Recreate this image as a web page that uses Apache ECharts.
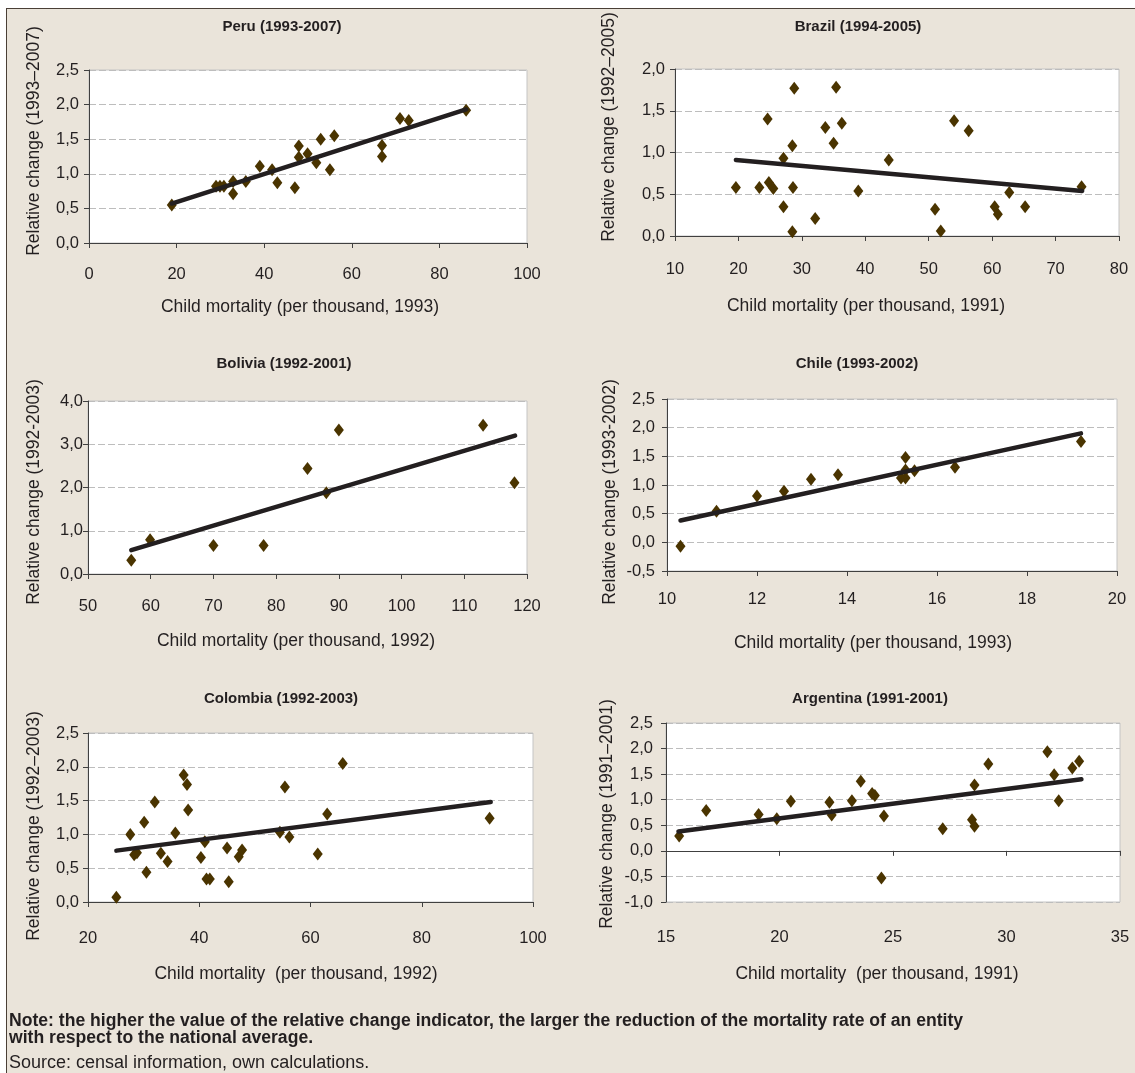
<!DOCTYPE html>
<html>
<head>
<meta charset="utf-8">
<script src="https://cdn.jsdelivr.net/npm/echarts@6/dist/echarts.min.js"></script>
<style>
  html, body { margin: 0; padding: 0; width: 1135px; height: 1073px; overflow: hidden; background: #ffffff; }
  #frame { position: absolute; left: 6px; top: 8px; width: 1140px; height: 1080px; background: #EAE4DA; border-left: 1.5px solid #4a3f36; border-top: 1.5px solid #4a3f36; }
  #chart { position: absolute; left: 0; top: 0; width: 1135px; height: 1073px; }
</style>
</head>
<body>
<div id="frame"></div>
<div id="chart"></div>
<script>
// ---------------- DATA ----------------
const peruPoints = [[18.9,0.55],[29.0,0.82],[29.9,0.82],[30.8,0.82],[32.9,0.89],[32.9,0.71],[35.8,0.89],[39.0,1.11],[41.8,1.06],[43.0,0.87],[47.0,0.80],[47.9,1.40],[47.9,1.24],[49.9,1.29],[51.9,1.16],[52.9,1.50],[55.0,1.06],[56.0,1.55],[66.9,1.41],[66.9,1.25],[71.0,1.80],[73.0,1.77],[86.1,1.92]];
const peruTrend = [[18.9,0.57],[86.1,1.93]];

const brazilPoints = [[19.6,0.58],[23.3,0.58],[24.6,1.40],[24.8,0.64],[25.5,0.57],[27.1,0.35],[27.1,0.93],[28.5,1.08],[28.8,1.77],[28.6,0.58],[28.5,0.05],[32.1,0.21],[33.7,1.30],[35.0,1.11],[35.4,1.78],[36.3,1.35],[38.9,0.54],[43.7,0.91],[51.0,0.32],[51.9,0.06],[54.0,1.38],[56.3,1.26],[60.4,0.35],[60.9,0.26],[62.7,0.52],[65.2,0.35],[74.1,0.59]];
const brazilTrend = [[19.6,0.91],[74.2,0.54]];

const boliviaPoints = [[56.9,0.32],[59.9,0.79],[70.0,0.66],[78.0,0.66],[85.0,2.44],[88.0,1.88],[90.0,3.33],[113.0,3.44],[118.0,2.11]];
const boliviaTrend = [[56.9,0.55],[118.1,3.20]];

const chilePoints = [[10.3,-0.07],[11.1,0.54],[12.0,0.81],[12.6,0.89],[13.2,1.10],[13.8,1.18],[15.2,1.12],[15.3,1.48],[15.3,1.26],[15.3,1.12],[15.5,1.25],[16.4,1.31],[19.2,1.76]];
const chileTrend = [[10.3,0.38],[19.2,1.90]];

const colombiaPoints = [[25.1,0.07],[27.6,1.00],[28.3,0.70],[28.8,0.73],[30.1,1.18],[30.5,0.44],[32.0,1.48],[33.1,0.72],[34.3,0.60],[35.7,1.02],[37.2,1.88],[37.8,1.74],[38.0,1.36],[40.3,0.66],[41.0,0.89],[41.3,0.34],[41.9,0.34],[45.0,0.80],[45.3,0.30],[47.1,0.67],[47.7,0.77],[54.5,1.03],[55.4,1.70],[56.2,0.96],[61.3,0.71],[63.0,1.30],[65.8,2.05],[92.2,1.24]];
const colombiaTrend = [[25.1,0.76],[92.4,1.48]];

const argentinaPoints = [[15.58,0.29],[16.77,0.79],[19.08,0.71],[19.88,0.63],[20.5,0.97],[22.2,0.95],[22.3,0.70],[23.19,0.98],[23.58,1.36],[24.08,1.12],[24.2,1.08],[24.6,0.68],[24.49,-0.53],[27.19,0.43],[28.48,0.61],[28.59,0.48],[28.59,1.29],[29.2,1.70],[31.8,1.94],[32.1,1.49],[32.3,0.98],[32.9,1.62],[33.2,1.75]];
const argentinaTrend = [[15.55,0.38],[33.3,1.40]];

const panelTitles = ['Peru (1993-2007)','Brazil (1994-2005)','Bolivia (1992-2001)','Chile (1993-2002)','Colombia (1992-2003)','Argentina (1991-2001)'];
const xAxisTitles = ['Child mortality (per thousand, 1993)','Child mortality (per thousand, 1991)','Child mortality (per thousand, 1992)','Child mortality (per thousand, 1993)','Child mortality  (per thousand, 1992)','Child mortality  (per thousand, 1991)'];
const yAxisTitles = ['Relative change (1993\u20132007)','Relative change (1992\u20132005)','Relative change (1992-2003)','Relative change (1993-2002)','Relative change (1992\u20132003)','Relative change (1991\u20132001)'];
// axis ranges [min, max, interval]
const xRanges = [[0,100,20],[10,80,10],[50,120,10],[10,20,2],[20,100,20],[15,35,5]];
const yRanges = [[0,2.5,0.5],[0,2.0,0.5],[0,4.0,1.0],[-0.5,2.5,0.5],[0,2.5,0.5],[-1.0,2.5,0.5]];
const noteLines = ['Note: the higher the value of the relative change indicator, the larger the reduction of the mortality rate of an entity','with respect to the national average.'];
const sourceLine = 'Source: censal information, own calculations.';

const allPoints = [peruPoints, brazilPoints, boliviaPoints, chilePoints, colombiaPoints, argentinaPoints];
const allTrends = [peruTrend, brazilTrend, boliviaTrend, chileTrend, colombiaTrend, argentinaTrend];

// ---------------- LAYOUT ----------------
const FONT = "'Liberation Sans', Arial, sans-serif";
const TXT = '#231f20';
const grids = [
  {left:89, top:70, width:438, height:173},
  {left:675, top:69, width:444, height:167},
  {left:88, top:401, width:439, height:173},
  {left:667, top:399, width:450, height:172},
  {left:88, top:733, width:445, height:169},
  {left:666, top:723, width:454, height:179}
];
const xLabelMargin = [23, 25, 24, 20, 28, 27];
const yLabelMargin = [10, 10, 5, 12, 9, 13];
const titlePos = [[282,27],[858,27],[284,364],[857,364],[281,699],[870,699]];
const xNamePos = [[300,307],[866,306],[296,641],[873,643],[296,974],[877,974]];
const yNamePos = [[34,141],[609,127],[34,492],[610,492],[34,826],[607,814]];

const option = {
  animation: false,
  grid: [], xAxis: [], yAxis: [], series: [], graphic: []
};

const axisLineStyle = {color:'#404040', width:1};
const fmtY = v => v.toFixed(1).replace('.', ',');

let xi = 0;
for (let i = 0; i < 6; i++) {
  const g = grids[i];
  option.grid.push(Object.assign({show:true, backgroundColor:'#ffffff', borderColor:'#c4c4c4', borderWidth:1, containLabel:false}, g));
  const [xmin, xmax, xint] = xRanges[i];
  const [ymin, ymax, yint] = yRanges[i];
  const isArg = (i === 5);
  option.xAxis.push({
    type:'value', gridIndex:i, min:xmin, max:xmax, interval:xint, position:'bottom',
    axisLine:{show:!isArg, onZero:false, lineStyle:axisLineStyle},
    axisTick:{show:!isArg, length:5, lineStyle:axisLineStyle},
    axisLabel:{color:TXT, fontFamily:FONT, fontSize:16.5, margin:xLabelMargin[i]},
    splitLine:{show:false}
  });
  const mainX = xi; xi++;
  if (isArg) {
    option.xAxis.push({
      type:'value', gridIndex:i, min:xmin, max:xmax, interval:xint, position:'top',
      axisLine:{show:true, onZero:true, lineStyle:axisLineStyle},
      axisTick:{show:true, inside:true, length:5, lineStyle:axisLineStyle},
      axisLabel:{show:false},
      splitLine:{show:false}
    });
    xi++;
  }
  option.yAxis.push({
    type:'value', gridIndex:i, min:ymin, max:ymax, interval:yint,
    axisLine:{show:true, onZero:false, lineStyle:axisLineStyle},
    axisTick:{show:true, length:5, lineStyle:axisLineStyle},
    axisLabel:{color:TXT, fontFamily:FONT, fontSize:16.5, margin:yLabelMargin[i], formatter:fmtY},
    splitLine:{show:true, lineStyle:{color:'#bdbdbd', width:1, type:[7,3]}}
  });
  option.series.push({
    type:'scatter', xAxisIndex:mainX, yAxisIndex:i, data:allPoints[i],
    symbol:'diamond', symbolSize:[10,13],
    itemStyle:{color:'#4a3400', opacity:1}, z:3
  });
  option.series.push({
    type:'line', xAxisIndex:mainX, yAxisIndex:i, data:allTrends[i],
    showSymbol:false, symbol:'none',
    lineStyle:{color:'#231f20', width:4.5, cap:'round'}, z:4
  });

  option.graphic.push({
    type:'text', x:titlePos[i][0], y:titlePos[i][1],
    style:{text:panelTitles[i], font:'bold 15px ' + FONT, fill:TXT, align:'center', verticalAlign:'middle', textAlign:'center', textVerticalAlign:'middle'}
  });
  option.graphic.push({
    type:'text', x:xNamePos[i][0], y:xNamePos[i][1],
    style:{text:xAxisTitles[i], font:'17.5px ' + FONT, fill:TXT, align:'center', verticalAlign:'middle', textAlign:'center', textVerticalAlign:'middle'}
  });
  option.graphic.push({
    type:'text', x:yNamePos[i][0], y:yNamePos[i][1], rotation:Math.PI/2,
    style:{text:yAxisTitles[i], font:'17.5px ' + FONT, fill:TXT, align:'center', verticalAlign:'middle', textAlign:'center', textVerticalAlign:'middle'}
  });
}

option.graphic.push({
  type:'text', x:9, y:1021,
  style:{text:noteLines[0], font:'bold 17.6px ' + FONT, fill:TXT, align:'left', verticalAlign:'middle', textAlign:'left', textVerticalAlign:'middle'}
});
option.graphic.push({
  type:'text', x:9, y:1038,
  style:{text:noteLines[1], font:'bold 17.6px ' + FONT, fill:TXT, align:'left', verticalAlign:'middle', textAlign:'left', textVerticalAlign:'middle'}
});
option.graphic.push({
  type:'text', x:9, y:1063,
  style:{text:sourceLine, font:'18px ' + FONT, fill:TXT, align:'left', verticalAlign:'middle', textAlign:'left', textVerticalAlign:'middle'}
});

const chart = echarts.init(document.getElementById('chart'), null, {renderer:'canvas'});
chart.setOption(option);
</script>
</body>
</html>
